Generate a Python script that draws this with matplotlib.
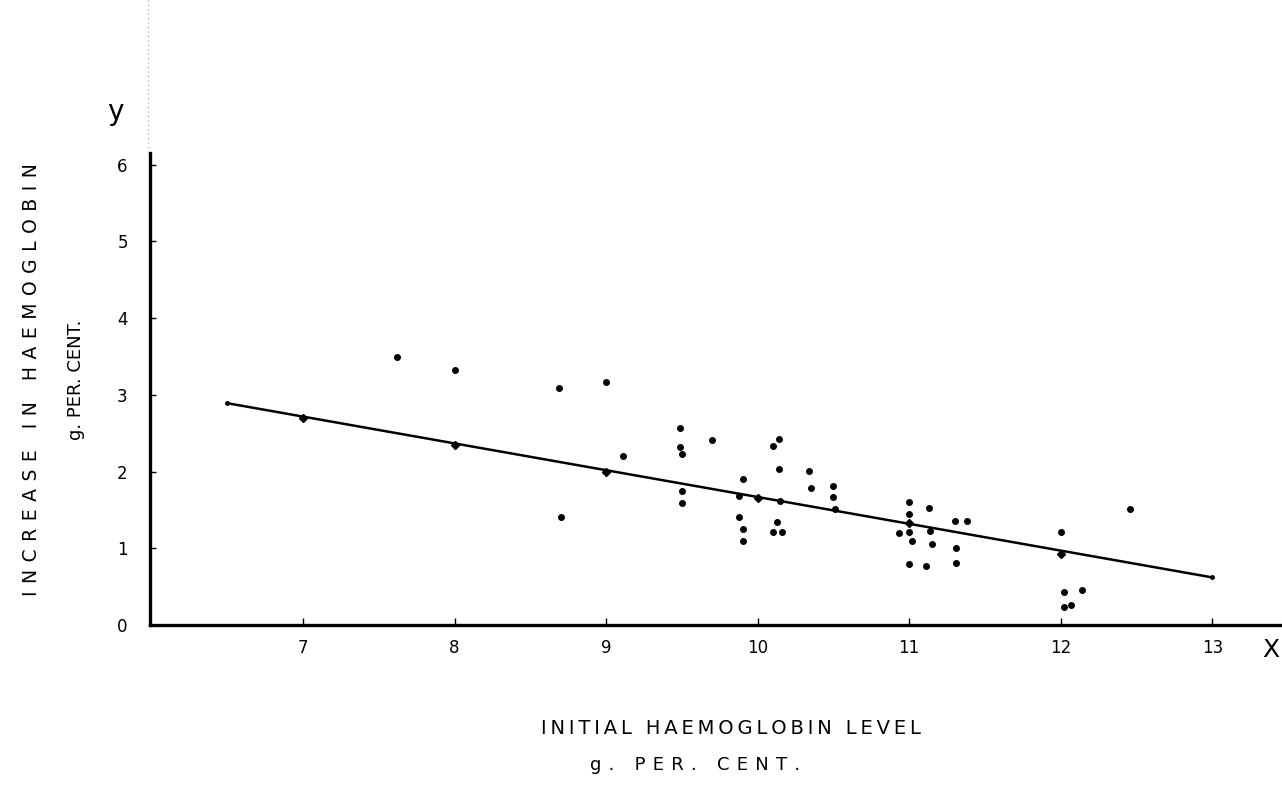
import numpy as np
import matplotlib
matplotlib.use("Agg")
from matplotlib import pyplot as plt

# scatter points
initial_hb = [7.62, 8.00, 8.69, 9.00, 9.11, 8.70,
              9.49, 9.49, 9.50, 9.50, 9.50, 9.70,
              9.90, 9.88, 9.88, 9.90, 9.90,
              10.10, 10.14, 10.14, 10.15, 10.13, 10.10, 10.16,
              10.34, 10.35, 10.50, 10.50, 10.51,
              11.00, 11.00, 10.93, 11.00, 11.02, 11.00, 11.11, 11.13, 11.14, 11.15,
              11.30, 11.38, 11.31, 11.31,
              12.00, 12.02, 12.14, 12.02, 12.07, 12.46]
increase_hb = [3.49, 3.32, 3.09, 3.16, 2.20, 1.41,
               2.57, 2.32, 2.23, 1.75, 1.59, 2.41,
               1.90, 1.68, 1.41, 1.25, 1.10,
               2.33, 2.42, 2.03, 1.61, 1.34, 1.21, 1.21,
               2.01, 1.79, 1.81, 1.67, 1.51,
               1.60, 1.44, 1.20, 1.21, 1.09, 0.80, 0.77, 1.52, 1.23, 1.06,
               1.36, 1.36, 1.00, 0.81,
               1.21, 0.43, 0.45, 0.23, 0.26, 1.51]

# fitted line and the marks drawn on it
line_x = [6.5, 13.0]
line_y = [2.89, 0.62]
mark_x = [7, 8, 9, 10, 11, 12]
mark_y = [2.70, 2.34, 2.00, 1.65, 1.33, 0.93]

x_ticks = [7, 8, 9, 10, 11, 12, 13]
y_ticks = [0, 1, 2, 3, 4, 5, 6]


def spaced(s, gap="\u2009"):
    # hand lettering is widely spaced
    return gap.join(s)


fig = plt.figure(figsize=(12.82, 8), dpi=100)
ax = fig.add_axes([0.117, 0.21875, 0.883, 0.59])

ax.plot(line_x, line_y, color="black", lw=1.8, zorder=2)
ax.plot(line_x, line_y, "o", color="black", ms=2.5, zorder=3)
ax.plot(mark_x, mark_y, "D", color="black", ms=4, zorder=3)
ax.scatter(initial_hb, increase_hb, s=16, color="black", zorder=3)

ax.set_xlim(5.99, 13.46)
ax.set_ylim(0, 6.15)
for side in ["top", "right"]:
    ax.spines[side].set_visible(False)
ax.spines["left"].set_linewidth(2.4)
ax.spines["bottom"].set_linewidth(2.4)

ax.set_xticks(x_ticks)
ax.set_xticklabels([str(t) for t in x_ticks])
ax.set_yticks(y_ticks)
ax.set_yticklabels([str(t) for t in y_ticks])
ax.tick_params(axis="x", direction="in", length=5, width=1, pad=10, labelsize=12)
ax.tick_params(axis="y", direction="in", length=4, width=1, pad=16, labelsize=12)

# axis letters
fig.text(115 / 1282, 1 - 112 / 800, "y", fontsize=20, ha="center", va="center")
fig.text(1271 / 1282, 1 - 650 / 800, "X", fontsize=18, ha="center", va="center")

# axis titles
fig.text(731 / 1282, 1 - 728 / 800, spaced("INITIAL HAEMOGLOBIN LEVEL"),
         fontsize=14, ha="center", va="center")
fig.text(695 / 1282, 1 - 765 / 800, spaced("g. PER. CENT.", "\u2009\u2009"),
         fontsize=13, ha="center", va="center")
fig.text(32 / 1282, 1 - 380 / 800, spaced("INCREASE IN HAEMOGLOBIN", "\u2009\u2009"),
         fontsize=13.5, ha="center", va="center", rotation=90)
fig.text(76 / 1282, 1 - 380 / 800, "g. PER. CENT.",
         fontsize=13, ha="center", va="center", rotation=90)

# faint scan line above the y axis
fig.add_artist(plt.Line2D([148 / 1282, 148 / 1282], [1.0, 1 - 153 / 800],
                          color="0.6", lw=0.8, ls=(0, (1, 3))))

fig.savefig("out.png", dpi=100)
